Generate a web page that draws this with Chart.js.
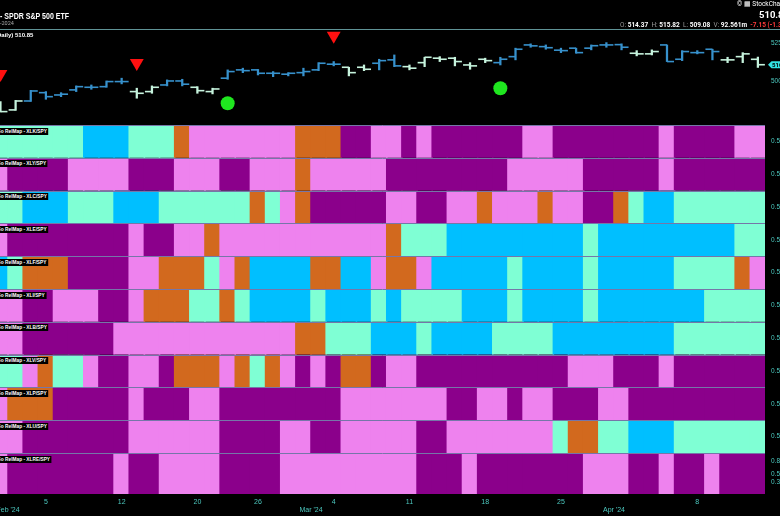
<!DOCTYPE html>
<html lang="en">
<head>
<meta charset="UTF-8">
<title>SPY - GoNoGo RelMap</title>
<script src="https://cdn.jsdelivr.net/npm/chart.js"></script>
<style>
    body {
        margin: 0;
        background: #000;
        font-family: Roboto, "Liberation Sans", Arial, sans-serif;
    }
    #stage {
        position: relative;
        width: 780px;
        height: 516px;
        overflow: hidden;
        background: #000;
    }
    #c { position: absolute; left: 0; top: 0; }
    .hdr {
        position: absolute;
        white-space: nowrap;
        line-height: 1;
        color: #fff;
    }
    .tag {
        position: absolute;
        left: -3px;
        background: #000;
        color: #fff;
        font: bold 6px "Liberation Sans", Arial, sans-serif;
        line-height: 7px;
        height: 7px;
        padding: 0 2px 0 0;
        white-space: nowrap;
        transform: scaleX(0.8);
        transform-origin: 0 0;
    }
    .g { color: #9a9a9a; font-weight: normal; }
    .r { color: #ff3b3b; }
</style>
</head>
<body>
<div id="stage">
    <canvas id="c" width="780" height="516"></canvas>

    <div class="hdr" style="left:0; top:10px; font: bold 9.5px 'Liberation Sans', sans-serif; transform: scaleX(0.74); transform-origin: 0 0;">- SPDR S&amp;P 500 ETF</div>
    <div class="hdr" style="left:0; top:20.5px; font-size:5.5px; color:#a8a8a8;">-2024</div>
    <div class="hdr" style="left:-5px; top:32px; font: bold 6px 'Liberation Sans', sans-serif;">(Daily) 510.85</div>

    <div class="hdr" style="left:737px; top:0.5px; font-size:6.5px;">&copy; &#9638; StockCharts.com</div>
    <div class="hdr" style="left:759px; top:8.5px; font: bold 9.5px Roboto, sans-serif;">510.85</div>
    <div class="hdr" style="left:620px; top:21px; font: bold 6.5px Roboto, sans-serif;">
        <span class="g">O:</span> 514.37&nbsp;&nbsp;<span class="g">H:</span> 515.82&nbsp;&nbsp;<span class="g">L:</span> 509.08&nbsp;&nbsp;<span class="g">V:</span> 92.561m&nbsp;&nbsp;<span class="r">-7.15 (-1.38%)</span>
    </div>
</div>

<script>
    // trading days on the chart
    const days = ['Jan 31','Feb 1','Feb 2','Feb 5','Feb 6','Feb 7','Feb 8','Feb 9','Feb 12','Feb 13',
        'Feb 14','Feb 15','Feb 16','Feb 20','Feb 21','Feb 22','Feb 23','Feb 26','Feb 27','Feb 28',
        'Feb 29','Mar 1','Mar 4','Mar 5','Mar 6','Mar 7','Mar 8','Mar 11','Mar 12','Mar 13',
        'Mar 14','Mar 15','Mar 18','Mar 19','Mar 20','Mar 21','Mar 22','Mar 25','Mar 26','Mar 27',
        'Mar 28','Apr 1','Apr 2','Apr 3','Apr 4','Apr 5','Apr 8','Apr 9','Apr 10','Apr 11','Apr 12'];

    // SPY daily OHLC
    const open  = [486.0,481.5,487.3,492.7,491.2,494.5,496.2,496.6,499.9,493.4,493.4,497.7,500.3,496.2,493.4,502.1,507.5,507.5,505.3,504.7,
                   505.7,507.5,511.2,509.2,509.2,511.8,514.0,509.6,512.2,515.1,515.1,510.7,514.4,512.2,516.1,523.7,522.6,520.3,521.6,521.6,
                   523.7,523.9,518.3,517.9,523.7,514.4,518.7,520.9,514.0,516.1,514.37];
    const high  = [486.9,487.7,494.2,493.4,492.7,497.1,497.7,500.3,502.1,495.6,497.1,501.0,501.4,496.6,495.6,507.5,508.6,507.8,506.4,505.7,
                   508.6,512.2,512.9,509.2,510.7,514.4,517.2,510.7,515.7,516.1,515.7,512.2,515.1,515.7,521.6,524.4,523.7,521.6,521.6,523.7,
                   525.2,524.4,520.0,520.5,523.7,520.0,520.0,520.9,515.7,518.7,515.82];
    const low   = [480.2,481.2,487.0,488.4,490.1,493.4,494.9,496.2,498.4,489.1,492.3,497.1,497.1,492.3,491.9,501.4,505.7,504.2,503.1,503.6,
                   503.6,507.0,510.1,503.6,507.0,507.5,509.6,507.5,509.6,512.9,510.1,507.9,512.2,510.7,514.0,522.2,520.9,518.7,518.3,520.5,
                   522.2,520.5,516.6,517.2,512.9,513.5,517.9,514.0,512.2,512.2,509.08];
    const close = [480.4,487.3,493.8,490.1,491.7,496.6,496.2,499.9,499.9,492.3,496.2,500.3,498.2,494.0,495.1,506.4,507.0,505.3,505.3,505.3,
                   506.4,511.8,511.2,505.7,507.9,513.5,510.1,508.6,515.7,514.4,512.9,510.1,513.5,514.4,520.9,523.1,521.9,520.0,518.7,523.2,
                   523.7,522.2,517.9,519.4,512.9,519.4,518.7,519.4,514.0,517.9,510.85];
    // GoNoGo trend per bar: G = strong Go, W = weaker Go
    const trend = 'WWGGGGGGGWWGGWWGGGGGGGGWWGGWWWWWWGGGGGGGGGWWGGGGWWW';

    const sellDays = ['Jan 31', 'Feb 13', 'Mar 4'];
    const sellLevel = [504.9, 512.0, 529.7];
    const buyDays = ['Feb 22', 'Mar 19'];
    const buyLevel = [485.8, 495.6];

    // axis labels
    const dayTicks = ['Feb 5','Feb 12','Feb 20','Feb 26','Mar 4','Mar 11','Mar 18','Mar 25','Apr 8'];
    const monthStarts = ['Feb 1', 'Mar 1', 'Apr 1'];
    const monthLabels = ["Feb '24", "Mar '24", "Apr '24"];
    const priceTicks = [500, 525];

    // RelMap rows vs SPY, one letter per day
    // A = aqua, B = blue, O = amber, V = pink, P = purple
    const rowNames = ['XLK','XLY','XLC','XLE','XLF','XLI','XLB','XLV','XLP','XLU','XLRE'];
    const xlk  = 'AAAAAABBBAAAOVVVVVVVOOOPPVVPVPPPPPPVVPPPPPPPVPPPPVV';
    const xly  = 'VPPPPVVVVPPPVVVPPVVVOVVVVVPPPPPPPPVVVVVPPPPPVPPPPPP';
    const xlc  = 'AABBBAAABBBAAAAAAOAVOPPPPPVVPPVVOVVVOVVPPOABBAAAAAA';
    const xle  = 'VPPPPPPPPVPPVVOVVVVVVVVVVVOAAABBBBBBBBBABBBBBBBBBAA';
    const xlf  = 'BAOOOPPPPVVOOOAVOBBBBOOBBVOOVBBBBBABBBBABBBBBAAAAOV';
    const xli  = 'VVPPVVVPPVOOOAAOABBBBABBBABAAAABBBABBBBABBBBBBBAAAA';
    const xlb  = 'VVPPPPPPVVVVVVVVVVVVOOAAABBBABBBBAAAABBBBBBBBAAAAAA';
    const xlv  = 'AAVOAAVPPVVPOOOVOAOVPVPOOPVVPPPPPPPPPPVVVPPPVPPPPPP';
    const xlp  = 'VOOOPPPPPVPPPVVPPPPPPPPVVVVVVVPPVVPVVPPPVVPPPPPPPPP';
    const xlu  = 'VVPPPPPPPVVVVVVPPPPVVPPVVVVVPPVVVVVVVAOOAABBBAAAAAA';
    const xlre = 'VPPPPPPPVPPVVVVPPPPVVVVVVVVVPPPVPPPPPPPVVVPPVPPVPPP';
    const rows = [xlk, xly, xlc, xle, xlf, xli, xlb, xlv, xlp, xlu, xlre];

    const palette = { A: '#7fffd4', B: '#00bfff', O: '#d2691e', V: '#ee82ee', P: '#8b008b' };
    const barColor = { G: '#3791cc', W: '#c6f3dd' };
    const axisText = '#4cc8bf';

    const idx = d => days.indexOf(d);
    const barCols = days.map((_, i) => barColor[trend[i]]);

    // x ticks: day numbers on the first line, month names on the second
    const xLabels = new Map();
    dayTicks.forEach(d => xLabels.set(idx(d), d.split(' ')[1]));
    monthStarts.forEach((d, j) => xLabels.set(idx(d) - 0.5, ['', monthLabels[j]]));

    const rowRange = k => (k === rows.length - 1 ? [0.02, 1.0] : [0, 1]);
    const rowTicks = k => (k === rows.length - 1 ? [0.3, 0.5, 0.8] : [0.5]);

    const datasets = [
        {
            type: 'scatter', yAxisID: 'yP',
            data: sellDays.map((d, j) => ({ x: idx(d), y: sellLevel[j] })),
            pointStyle: 'triangle', pointRotation: 180, pointRadius: 8,
            pointBackgroundColor: '#ff1010', pointBorderWidth: 0
        },
        {
            type: 'scatter', yAxisID: 'yP',
            data: buyDays.map((d, j) => ({ x: idx(d), y: buyLevel[j] })),
            pointStyle: 'circle', pointRadius: 7,
            pointBackgroundColor: '#1fe61f', pointBorderWidth: 0
        },
        {
            type: 'scatter', yAxisID: 'yP',
            data: open.map((v, i) => ({ x: i, y: v })),
            pointStyle: 'dash', pointRotation: 180, pointRadius: 7,
            pointBorderColor: barCols, pointBorderWidth: 1.6
        },
        {
            type: 'scatter', yAxisID: 'yP',
            data: close.map((v, i) => ({ x: i, y: v })),
            pointStyle: 'dash', pointRotation: 0, pointRadius: 7,
            pointBorderColor: barCols, pointBorderWidth: 1.6
        },
        {
            type: 'bar', yAxisID: 'yP',
            data: low.map((v, i) => ({ x: i, y: [v, high[i]] })),
            backgroundColor: barCols, barThickness: 1.6, grouped: false
        }
    ];

    rows.forEach((codes, k) => {
        const [lo, hi] = rowRange(k);
        datasets.push({
            type: 'bar', yAxisID: 'r' + k,
            data: codes.split('').map((c, i) => ({ x: i, y: [lo, hi] })),
            backgroundColor: codes.split('').map(c => palette[c]),
            barThickness: 16, grouped: false, borderWidth: 0
        });
    });

    const rightAxis = (extra) => Object.assign({
        position: 'right', stack: 'panes', bounds: 'data',
        grid: { display: false, drawTicks: false },
        border: { display: false },
        ticks: { color: axisText, font: { size: 6.5 }, padding: 6, autoSkip: false },
        afterFit: s => { s.width = 15; s.paddingTop = 0; s.paddingBottom = 0; }
    }, extra);

    const scales = {
        x: {
            type: 'linear', min: -0.03, max: 50.47, offset: false, bounds: 'data',
            grid: { display: false, drawTicks: false },
            border: { display: false },
            ticks: {
                color: axisText, font: { size: 7 }, padding: 3.8,
                autoSkip: false, maxRotation: 0,
                callback: v => xLabels.get(v)
            },
            afterBuildTicks: s => { s.ticks = [...xLabels.keys()].map(v => ({ value: v })); },
            // keep the plot flush with the left edge, labels may be cut
            afterFit: s => { s.height = 22; s.paddingLeft = 0; s.paddingRight = 0; }
        },
        yP: rightAxis({
            min: 471.7, max: 533.4, stackWeight: 95,
            afterBuildTicks: s => { s.ticks = priceTicks.map(v => ({ value: v })); }
        })
    };
    rows.forEach((_, k) => {
        const [lo, hi] = rowRange(k);
        scales['r' + k] = rightAxis({
            min: lo, max: hi, stackWeight: k === rows.length - 1 ? 41 : 32.8,
            afterBuildTicks: s => { s.ticks = rowTicks(k).map(v => ({ value: v })); }
        });
    });

    const overlay = {
        id: 'overlay',
        afterDatasetsDraw(chart) {
            const { ctx, chartArea } = chart;
            ctx.save();
            // separators between the RelMap rows
            ctx.strokeStyle = '#7676a8';
            ctx.lineWidth = 1;
            rows.forEach((_, k) => {
                const y = Math.round(chart.scales['r' + k].top) + 0.5;
                ctx.beginPath();
                ctx.moveTo(chartArea.left, y);
                ctx.lineTo(chartArea.right, y);
                ctx.stroke();
            });
            // rule under the header
            ctx.strokeStyle = '#5f9396';
            ctx.beginPath();
            ctx.moveTo(0, chartArea.top - 0.5);
            ctx.lineTo(chart.width, chartArea.top - 0.5);
            ctx.stroke();
            // last close marker on the price axis
            const last = close[close.length - 1];
            const py = chart.scales.yP.getPixelForValue(last);
            const x0 = chartArea.right + 3;
            ctx.fillStyle = '#33e3e3';
            ctx.beginPath();
            ctx.moveTo(x0, py);
            ctx.lineTo(x0 + 3.5, py - 3.5);
            ctx.lineTo(chart.width + 4, py - 3.5);
            ctx.lineTo(chart.width + 4, py + 3.5);
            ctx.lineTo(x0 + 3.5, py + 3.5);
            ctx.closePath();
            ctx.fill();
            ctx.fillStyle = '#000';
            ctx.font = 'bold 6px Roboto, sans-serif';
            ctx.textBaseline = 'middle';
            ctx.fillText(last.toFixed(2), x0 + 4, py + 0.5);
            ctx.restore();
        }
    };

    const chart = new Chart(document.getElementById('c'), {
        type: 'bar',
        data: { datasets },
        options: {
            responsive: false,
            animation: false,
            events: [],
            layout: { autoPadding: false, padding: { top: 30, left: 0, right: 0, bottom: 0 } },
            plugins: { legend: { display: false }, tooltip: { enabled: false } },
            scales
        },
        plugins: [overlay]
    });

    // RelMap row captions
    const stage = document.getElementById('stage');
    rowNames.forEach((n, k) => {
        const tag = document.createElement('div');
        tag.className = 'tag';
        tag.textContent = 'Go RelMap - ' + n + '/SPY';
        tag.style.top = (chart.scales['r' + k].top + 2.5) + 'px';
        stage.appendChild(tag);
    });
</script>
</body>
</html>
